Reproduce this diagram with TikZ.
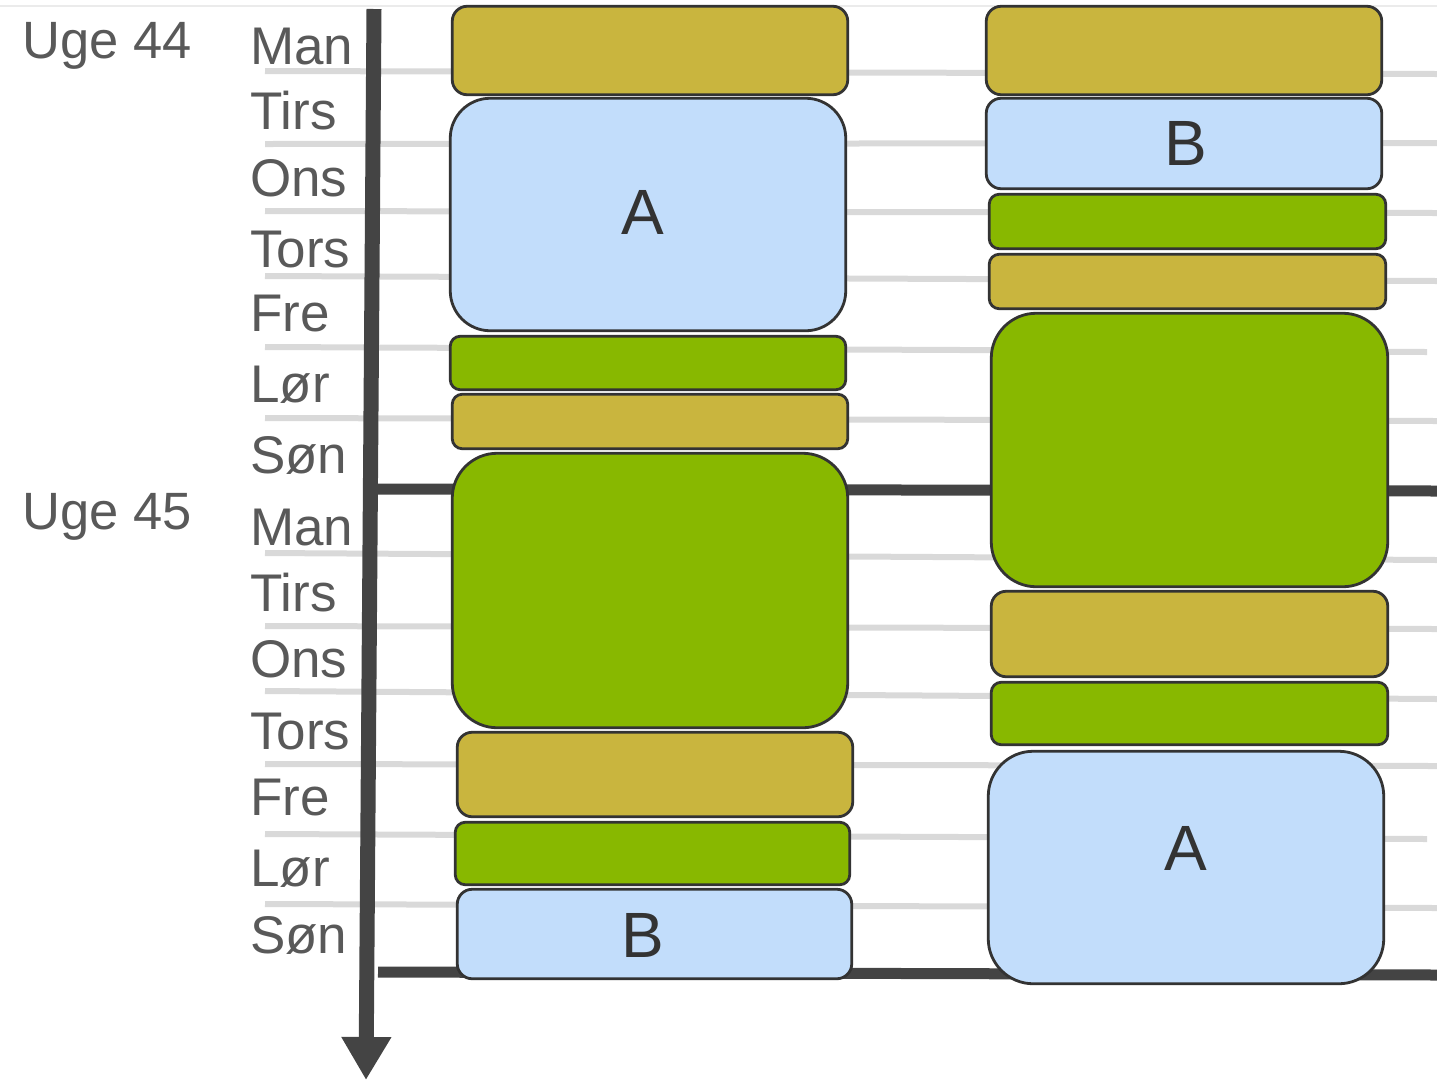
\documentclass[tikz,border=0pt]{standalone}
\usepackage{fontspec}
\setmainfont{Liberation Sans}
\usetikzlibrary{arrows.meta}
\definecolor{gold}{RGB}{201,181,62}
\definecolor{lblue}{RGB}{194,221,251}
\definecolor{lgreen}{RGB}{136,184,0}
\definecolor{edgec}{RGB}{51,51,51}
\definecolor{axisc}{RGB}{68,68,68}
\definecolor{gridc}{RGB}{217,217,217}
\definecolor{txtc}{RGB}{89,89,89}
\begin{document}
\begin{tikzpicture}[x=1pt,y=-1pt,
  box/.style={draw=edgec, line width=2.8pt, inner sep=0pt},
  daylbl/.style={anchor=base west, inner sep=0pt, text=txtc, font=\fontsize{53}{53}\selectfont},
  weeklbl/.style={anchor=base west, inner sep=0pt, text=txtc, font=\fontsize{52.5}{52.5}\selectfont},
  letter/.style={inner sep=0pt, text=edgec, font=\fontsize{64}{64}\selectfont},
  gridline/.style={draw=gridc, line width=6pt},
  weekline/.style={draw=axisc, line width=11pt},
]
\useasboundingbox (0,0) rectangle (1437,1080);
% faint top border
\draw[draw=black!8, line width=1.5pt] (0,6) -- (1437,6);
% day grid lines
\foreach \yl/\yr/\xr in {71/74/1437, 144/143/1437, 211/213/1437, 276/281/1437, 347/352/1427, 418/421/1437,
  553/560/1437, 626/629/1437, 691/699/1437, 764/766/1437, 834/839/1427, 904/908/1437}
  \draw[gridline] (265,\yl) -- (\xr,\yr);
% week lines
\coordinate (w1a) at (378,489);
\coordinate (w1b) at (1437,491);
\coordinate (w2a) at (378,972);
\coordinate (w2b) at (1437,975);
\draw[weekline] (w1a) -- (w1b);
\draw[weekline] (w2a) -- (w2b);
% time axis
\coordinate (ax1) at (374,9);
\coordinate (ax2) at (366,1080);
\draw[draw=axisc, line width=15pt, -{Triangle[length=43pt,width=47pt]}] (ax1) -- (ax2);
% labels
\node[weeklbl] (u44) at (22,58) {Uge 44};
\node[weeklbl] (u45) at (22,529) {Uge 45};
\node[daylbl] (d1) at (250,64) {Man};
\node[daylbl] (d2) at (250,129) {Tirs};
\node[daylbl] (d3) at (250,196) {Ons};
\node[daylbl] (d4) at (250,267) {Tors};
\node[daylbl] (d5) at (250,331) {Fre};
\node[daylbl] (d6) at (250,402) {Lør};
\node[daylbl] (d7) at (250,473) {Søn};
\node[daylbl] (d8) at (250,545) {Man};
\node[daylbl] (d9) at (250,611) {Tirs};
\node[daylbl] (d10) at (250,677) {Ons};
\node[daylbl] (d11) at (250,749) {Tors};
\node[daylbl] (d12) at (250,815) {Fre};
\node[daylbl] (d13) at (250,886) {Lør};
\node[daylbl] (d14) at (250,953) {Søn};
% left column
\node[box, fill=gold, rounded corners=15pt, minimum width=395.5pt, minimum height=88.5pt] (l1) at (650,50.5) {};
\node[box, fill=lblue, rounded corners=40pt, minimum width=395.5pt, minimum height=232.5pt] (l2) at (648,214.5) {};
\node[box, fill=lgreen, rounded corners=10pt, minimum width=395.5pt, minimum height=53.5pt] (l3) at (648,363) {};
\node[box, fill=gold, rounded corners=10pt, minimum width=395.5pt, minimum height=54.5pt] (l4) at (650,421.5) {};
\node[box, fill=lgreen, rounded corners=45pt, minimum width=395.5pt, minimum height=274.5pt] (l5) at (650,590.5) {};
\node[box, fill=gold, rounded corners=15pt, minimum width=395.5pt, minimum height=84.5pt] (l6) at (655,774.5) {};
\node[box, fill=lgreen, rounded corners=10pt, minimum width=394.5pt, minimum height=62.5pt] (l7) at (652.5,853.5) {};
\node[box, fill=lblue, rounded corners=15pt, minimum width=394.5pt, minimum height=89.5pt] (l8) at (654.5,934) {};
% right column
\node[box, fill=gold, rounded corners=15pt, minimum width=395.5pt, minimum height=88.5pt] (r1) at (1184,50.5) {};
\node[box, fill=lblue, rounded corners=15pt, minimum width=395.5pt, minimum height=90.5pt] (r2) at (1184,143.5) {};
\node[box, fill=lgreen, rounded corners=10pt, minimum width=396.5pt, minimum height=54.5pt] (r3) at (1187.5,221.5) {};
\node[box, fill=gold, rounded corners=10pt, minimum width=396.5pt, minimum height=54.5pt] (r4) at (1187.5,281.5) {};
\node[box, fill=lgreen, rounded corners=45pt, minimum width=396.5pt, minimum height=273.5pt] (r5) at (1189.5,450) {};
\node[box, fill=gold, rounded corners=15pt, minimum width=396.5pt, minimum height=85.5pt] (r6) at (1189.5,634) {};
\node[box, fill=lgreen, rounded corners=10pt, minimum width=396.5pt, minimum height=62.5pt] (r7) at (1189.5,713.5) {};
\node[box, fill=lblue, rounded corners=45pt, minimum width=395.5pt, minimum height=232.5pt] (r8) at (1186,867.5) {};
% letters
\node[letter] (tA1) at (643,212) {A};
\node[letter] (tB1) at (643,935) {B};
\node[letter] (tB2) at (1186,143) {B};
\node[letter] (tA2) at (1186,848) {A};
\end{tikzpicture}
\end{document}
